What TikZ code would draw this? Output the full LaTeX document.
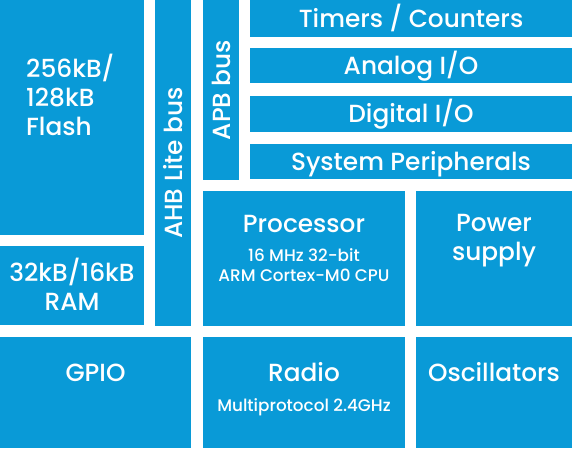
\documentclass[tikz,border=0pt]{standalone}
\usepackage{fontspec}
\setmainfont{Poppins Medium}
\definecolor{chipblue}{RGB}{9,154,215}

\begin{document}
\begin{tikzpicture}[
  x=1pt, y=-1pt,
  blk/.style={fill=chipblue, inner sep=0pt, outer sep=0pt, anchor=north west},
  big/.style={text=white, inner sep=0pt, anchor=base, align=center, font=\fontsize{24.8}{29}\selectfont},
  small/.style={text=white, inner sep=0pt, anchor=base, align=center, font=\fontsize{16.8}{19.7}\selectfont}
]
\useasboundingbox (0,0) rectangle (572,448);

% blocks
\node[blk, minimum width=144pt, minimum height=235pt] (flash) at (0,0) {};
\node[blk, minimum width=144pt, minimum height=79pt] (ram) at (0,246) {};
\node[blk, minimum width=36pt, minimum height=326pt] (ahb) at (155,0) {};
\node[blk, minimum width=36pt, minimum height=180pt] (apb) at (203,0) {};
\node[blk, minimum width=322pt, minimum height=37pt] (timers) at (250,0) {};
\node[blk, minimum width=322pt, minimum height=35pt] (analog) at (250,48) {};
\node[blk, minimum width=322pt, minimum height=36pt] (digital) at (250,96) {};
\node[blk, minimum width=322pt, minimum height=35pt] (sysper) at (250,144) {};
\node[blk, minimum width=202pt, minimum height=135pt] (cpu) at (203,191) {};
\node[blk, minimum width=156pt, minimum height=135pt] (power) at (416,191) {};
\node[blk, minimum width=191pt, minimum height=111pt] (gpio) at (0,337) {};
\node[blk, minimum width=202pt, minimum height=111pt] (radio) at (203,337) {};
\node[blk, minimum width=156pt, minimum height=111pt] (osc) at (416,337) {};

% labels (base = last line)
\node[big, anchor=base west, align=left] (flashtxt) at (26,135) {256kB/\\128kB\\Flash};
\node[big] (ramtxt) at (72,310) {32kB/16kB\\RAM};
\node[big, rotate=90] (ahbtxt) at (ahb.center) [anchor=center] {AHB Lite bus};
\node[big, rotate=90] (apbtxt) at (apb.center) [anchor=center] {APB bus};
\node[big] (timerstxt) at (411,27) {Timers / Counters};
\node[big] (analogtxt) at (411,74) {Analog I/O};
\node[big] (digitaltxt) at (411,122) {Digital I/O};
\node[big] (sypertxt) at (411,170) {System Peripherals};
\node[big] (cputxt) at (304,232) {Processor};
\node[small] (cpusub) at (304,281) {16 MHz 32-bit\\ARM Cortex-M0 CPU};
\node[big] (powertxt) at (494,260) {Power\\supply};
\node[big] (gpiotxt) at (95.5,381) {GPIO};
\node[big] (radiotxt) at (304,381) {Radio};
\node[small] (radiosub) at (304,411) {Multiprotocol 2.4GHz};
\node[big] (osctxt) at (494,381) {Oscillators};
\end{tikzpicture}
\end{document}
